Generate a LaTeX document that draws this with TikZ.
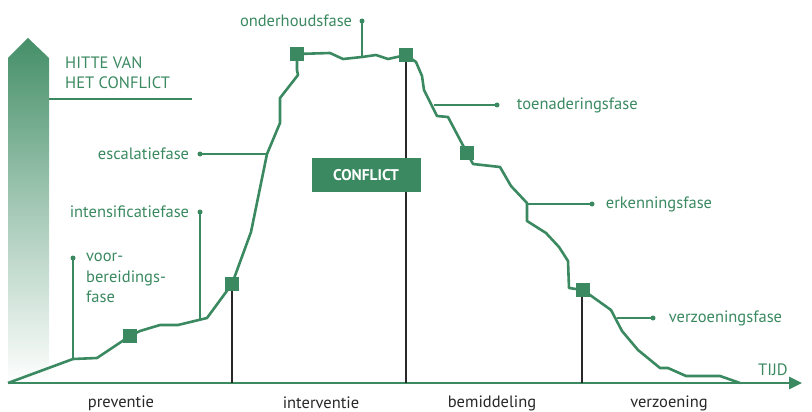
\documentclass[tikz,border=0pt]{standalone}
\usepackage{fontspec}
\setmainfont{PT Sans}
\usetikzlibrary{arrows.meta,positioning}

\definecolor{cgreen}{RGB}{58,137,96}
\definecolor{cgray}{RGB}{40,40,40}

\tikzset{
    curve/.style={cgreen, line width=2.6pt, line join=round},
    leader/.style={cgreen, line width=1.4pt},
    marker/.style={fill=cgreen, minimum size=14pt, inner sep=0pt},
    dot/.style={circle, fill=cgreen, inner sep=0pt, minimum size=5pt},
    phase/.style={text=cgreen, font=\fontsize{16.5}{20.5}\selectfont, inner sep=0pt},
    period/.style={text=cgray, font=\fontsize{16.5}{18}\selectfont, inner sep=0pt},
    cut/.style={cgray, line width=1.3pt}
}

\begin{document}
\begin{tikzpicture}[x=1pt, y=-1pt]

    \useasboundingbox (0,0) rectangle (812,412);

    \def \ybase {383}

    % heat arrow on the left
    \shade[top color=cgreen!95, bottom color=white, middle color=cgreen!45]
        (8,58) -- (28,38) -- (49,58) -- (49,385) -- (8,385) -- cycle;
    \node[phase, anchor=west, align=left, font=\fontsize{16.5}{20}\selectfont] (heat) at (65,73) {HITTE VAN\\HET CONFLICT};
    \coordinate (heatl) at (49,99);
    \coordinate (heatr) at (192,99);
    \draw[leader] (heatl) -- (heatr);

    % time axis
    \coordinate (o) at (8,\ybase);
    \coordinate (tend) at (802,\ybase);
    \draw[cgreen, line width=2.8pt, -{Triangle[length=13pt, width=12pt]}] (o) -- (tend);
    \node[phase, anchor=south] (tijd) at (773,376) {TIJD};

    % marker positions
    \coordinate (p1) at (130,336);
    \coordinate (p2) at (232,284);
    \coordinate (p3) at (297,54);
    \coordinate (p4) at (406,55);
    \coordinate (p5) at (467,153);
    \coordinate (p6) at (583,290);

    % phase boundaries
    \coordinate (b2) at (232,\ybase);
    \coordinate (b4) at (406,\ybase);
    \coordinate (b6) at (582,\ybase);
    \draw[cut] (p2) -- (b2);
    \draw[cut] (p4) -- (b4);
    \draw[cut] (p6 -| b6) -- (b6);

    % conflict box
    \node[fill=cgreen, text=white, minimum width=109pt, minimum height=34pt,
          font=\fontsize{15.5}{17}\selectfont\bfseries] (conflict) at (366,175) {CONFLICT};

    % the heat curve
    \draw[curve] (o) -- (73,359) -- (97,358) -- (p1) -- (140,331) -- (160,325)
        -- (178,325) -- (207,318) -- (p2) -- (251,232) -- (267,154) -- (280,123)
        -- (280,98) -- (298,75) -- (297,70) -- (p3) -- (330,53) -- (343,59)
        -- (362,57) -- (376,55) -- (388,59) -- (p4) -- (416,62) -- (422,76)
        -- (424,90) -- (437,116) -- (448,117) -- (p5) -- (473,164) -- (500,167)
        -- (511,186) -- (527,203) -- (527,221) -- (546,233) -- (559,247) -- (568,261)
        -- (569,288) -- (p6) -- (590,295) -- (611,310) -- (622,331) -- (638,350)
        -- (660,368) -- (668,368) -- (686,376) -- (720,376) -- (740,\ybase);
    \node[marker] (m1) at (p1) {};
    \node[marker] (m2) at (p2) {};
    \node[marker] (m3) at (p3) {};
    \node[marker] (m4) at (p4) {};
    \node[marker] (m5) at (p5) {};
    \node[marker] (m6) at (p6) {};

    % phase labels with leaders
    \node[dot] (dvoor) at (73,258) {};
    \node[phase, anchor=north west, align=left] (voor) at (86,253) {voor-\\bereidings-\\fase};
    \draw[leader] (dvoor.center) -- (73,359);

    \node[dot] (dint) at (200,212) {};
    \node[phase, anchor=east, left=8pt of dint] (int) {intensificatiefase};
    \draw[leader] (dint.center) -- (200,319);

    \node[dot] (desc) at (200,154) {};
    \node[phase, anchor=east, left=8pt of desc] (esc) {escalatiefase};
    \draw[leader] (desc.center) -- (266,154);

    \node[dot] (donder) at (362,21) {};
    \node[phase, anchor=east, left=7pt of donder] (onder) {onderhoudsfase};
    \draw[leader] (donder.center) -- (362,57);

    \node[dot] (dtoen) at (497,105) {};
    \node[phase, anchor=west, right=17pt of dtoen] (toen) {toenaderingsfase};
    \draw[leader] (dtoen.center) -- (434,105);

    \node[dot] (derk) at (592,204) {};
    \node[phase, anchor=west, right=11pt of derk] (erk) {erkenningsfase};
    \draw[leader] (derk.center) -- (527,204);

    \node[dot] (dverz) at (653,318) {};
    \node[phase, anchor=west, right=13pt of dverz] (verz) {verzoeningsfase};
    \draw[leader] (dverz.center) -- (617,318);

    % periods along the time axis
    \node[period] (prev) at (121,403) {preventie};
    \node[period] (inter) at (321,403) {interventie};
    \node[period] (bemid) at (492,403) {bemiddeling};
    \node[period] (verzo) at (669,403) {verzoening};

\end{tikzpicture}
\end{document}
